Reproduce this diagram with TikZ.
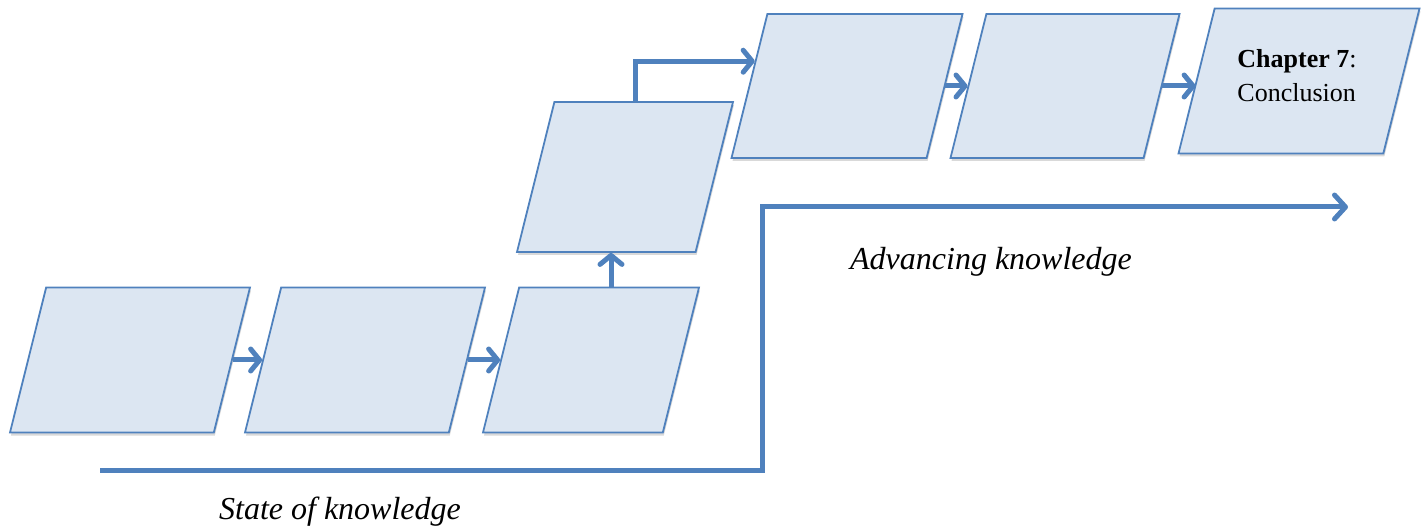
\documentclass[tikz,border=0pt]{standalone}
\usepackage{fontspec}
\setmainfont{Liberation Serif}
\usetikzlibrary{arrows.meta, shapes.geometric, shadows, calc}

\definecolor{boxfill}{HTML}{DCE6F2}
\definecolor{boxline}{HTML}{4F81BD}

\tikzset{
  chbox/.style={trapezium, trapezium left angle=76, trapezium right angle=104,
    trapezium stretches body, draw=boxline, fill=boxfill, line width=1.8pt,
    inner xsep=0pt, inner ysep=72.5pt,
    drop shadow={opacity=0.3, shadow xshift=1pt, shadow yshift=-3pt}},
  flow/.style={draw=boxline, line width=5pt,
    -{Straight Barb[length=9pt, width=22pt, round]}},
  lbl/.style={font=\fontsize{32}{38}\selectfont\itshape},
}

\begin{document}
\begin{tikzpicture}[x=1pt, y=-1pt]
    \useasboundingbox (0,0) rectangle (1422,529);
    % bottom row
    \node[chbox, minimum width=240pt] (ch1) at (130,360) {};
    \node[chbox, minimum width=240pt] (ch2) at (365,360) {};
    \node[chbox, minimum width=216pt] (ch3) at (591,360) {};
    % middle
    \node[chbox, minimum width=216pt, inner ysep=75pt] (ch4) at (625,177) {};
    % top row
    \node[chbox, minimum width=231pt, inner ysep=72pt] (ch5) at (847,86) {};
    \node[chbox, minimum width=229pt, inner ysep=72pt] (ch6) at (1065,86) {};
    \node[chbox, minimum width=241pt] (ch7) at (1299,81) {};
    \node[align=left, font=\fontsize{26}{34}\selectfont] (ch7txt) at (1297,76)
        {\textbf{Chapter 7}:\\Conclusion};

    \draw[flow] (ch1.east) -- (ch2.west);
    \draw[flow] (ch2.east) -- (ch3.west);
    \draw[flow] ([xshift=20pt]ch3.north) -- ([xshift=20pt]ch3.north |- ch4.south);
    \draw[flow] ([xshift=10pt]ch4.north) |- ($(ch5.top left corner)!0.33!(ch5.bottom left corner)$);
    \draw[flow] (ch5.east) -- (ch6.west);
    \draw[flow] (ch6.east) -- (ch7.west |- ch6.east);

    % knowledge line
    \coordinate (kstart) at (100,470);
    \coordinate (kend) at (1348,207);
    \draw[flow, -{Straight Barb[length=11pt, width=24pt, round]}]
        (kstart) -| (762,207) -- (kend);
    \node[lbl] (state) at (340,512) {State of knowledge};
    \node[lbl] (adv) at (991,262) {Advancing knowledge};
\end{tikzpicture}
\end{document}
